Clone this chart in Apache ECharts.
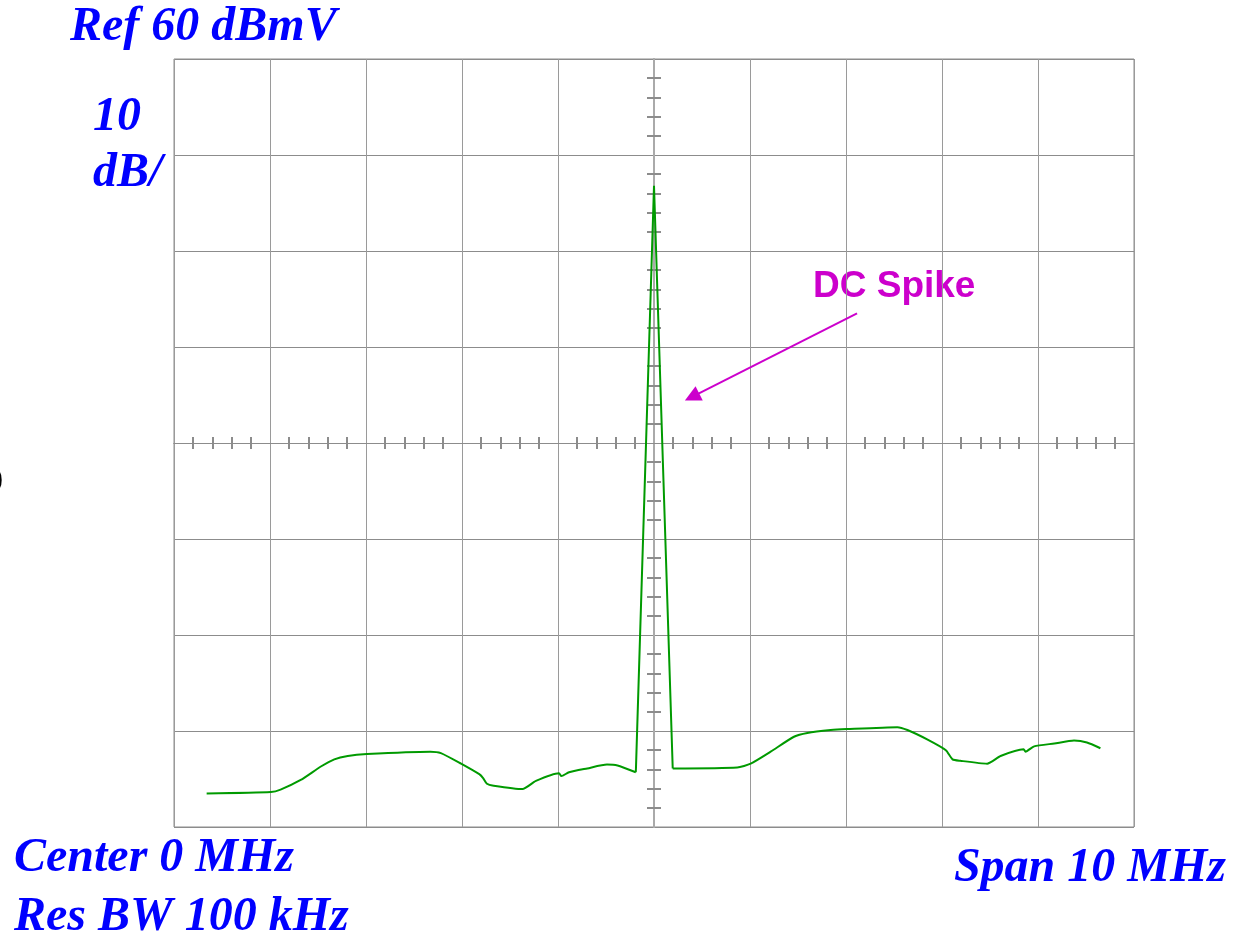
<!DOCTYPE html>
<html>
<head>
<meta charset="utf-8">
<script src="https://cdn.jsdelivr.net/npm/echarts@6/dist/echarts.min.js"></script>
<style>
  html, body { margin: 0; padding: 0; background: #fff; }
  #spectrum { width: 1242px; height: 939px; }
</style>
</head>
<body>
<div id="spectrum"></div>
<script>
// trace: frequency (MHz) and level (dBmV)
var freqMHz = [
  -4.66, -3.99, -3.89, -3.68, -3.47, -3.33, -3.19, -2.99, -2.33, -2.22,
  -2.01, -1.82, -1.78, -1.74, -1.67, -1.37, -1.23, -0.99, -0.965, -0.885,
  -0.695, -0.49, -0.38, -0.19, -0.188, 0.0, 0.195, 0.867, 1.007, 1.215,
  1.458, 1.597, 1.84, 2.01, 2.535, 2.64, 2.85, 3.04, 3.11, 3.19,
  3.47, 3.61, 3.85, 3.87, 3.96, 4.17, 4.375, 4.51, 4.65
];
var levelDbmv = [
  -16.5, -16.35, -16.1, -15.1, -13.7, -12.95, -12.6, -12.4, -12.15, -12.3,
  -13.4, -14.5, -14.9, -15.5, -15.7, -16.05, -15.2, -14.4, -14.7, -14.3,
  -13.9, -13.5, -13.6, -14.3, -13.9, 46.8, -13.9, -13.8, -13.4, -12.15,
  -10.6, -10.2, -9.9, -9.8, -9.6, -9.9, -10.9, -12.0, -12.95, -13.1,
  -13.4, -12.6, -11.9, -12.15, -11.6, -11.3, -11.0, -11.2, -11.8
];
// the spike runs from index 23 to 26, the noise floor is on either side
var spikeStart = 23;
var spikeEnd = 26;

var refLevel = 60;      // top of screen
var dbPerDiv = 10;
var spanMHz = 10;
var arrowFrom = [2.115, 33.5];
var arrowTo = [0.396, 24.8];

var trace = freqMHz.map(function (f, i) { return [f, levelDbmv[i]]; });
var floorLeft = trace.slice(0, spikeStart + 1);
var spike = trace.slice(spikeStart, spikeEnd + 1);
var floorRight = trace.slice(spikeEnd);

var myChart = echarts.init(document.getElementById('spectrum'));

var blueText = 'italic bold 48px "Liberation Serif", "Times New Roman", serif';
var gridColor = '#8c8c8c';
var traceColor = '#009a00';
var tickStyle = { color: '#8c8c8c', width: 2 };

function centerXAxis(inside) {
  return {
    type: 'value', min: -spanMHz / 2, max: spanMHz / 2, interval: 1,
    axisLine: { show: true, onZero: true, onZeroAxisIndex: 1, lineStyle: { color: gridColor } },
    axisTick: { show: false, inside: inside },
    minorTick: { show: true, splitNumber: 5, length: 6, lineStyle: tickStyle },
    axisLabel: { show: false },
    splitLine: { show: false }
  };
}
function centerYAxis(inside) {
  return {
    type: 'value', min: refLevel - 8 * dbPerDiv, max: refLevel, interval: dbPerDiv,
    axisLine: { show: true, onZero: true, onZeroAxisIndex: 0, lineStyle: { color: '#aaa', width: 2 } },
    axisTick: { show: false, inside: inside },
    minorTick: { show: true, splitNumber: 5, length: 7, lineStyle: tickStyle },
    axisLabel: { show: false },
    splitLine: { show: false }
  };
}
function traceSeries(data, smooth) {
  return {
    type: 'line',
    data: data,
    showSymbol: false,
    smooth: smooth,
    lineStyle: { color: traceColor, width: 2 }
  };
}

var spikeSeries = traceSeries(spike, false);
spikeSeries.markLine = {
  silent: true,
  symbol: ['none', 'triangle'],
  symbolSize: [16, 16],
  label: { show: false },
  lineStyle: { color: '#cc00cc', width: 2, type: 'solid' },
  data: [[{ coord: arrowFrom }, { coord: arrowTo }]]
};

var option = {
  backgroundColor: '#fff',
  animation: false,
  grid: {
    left: 174, top: 59, width: 960, height: 768,
    show: true, borderColor: gridColor, borderWidth: 1
  },
  xAxis: [
    {
      type: 'value', min: -spanMHz / 2, max: spanMHz / 2, interval: 1,
      axisLine: { show: false }, axisTick: { show: false }, axisLabel: { show: false },
      splitLine: { show: true, lineStyle: { color: '#9a9a9a', width: 1 } }
    },
    centerXAxis(true),
    centerXAxis(false)
  ],
  yAxis: [
    {
      type: 'value', min: refLevel - 8 * dbPerDiv, max: refLevel, interval: dbPerDiv,
      axisLine: { show: false }, axisTick: { show: false }, axisLabel: { show: false },
      splitLine: { show: true, lineStyle: { color: gridColor, width: 1 } }
    },
    { type: 'value', min: -40, max: 40, show: false },
    centerYAxis(true),
    centerYAxis(false)
  ],
  series: [
    traceSeries(floorLeft, 0.2),
    spikeSeries,
    traceSeries(floorRight, 0.2)
  ],
  graphic: [
    { type: 'text', style: { text: 'Ref 60 dBmV', x: 70, y: 28, font: blueText, fill: '#0000ff', verticalAlign: 'middle' } },
    { type: 'text', style: { text: '10', x: 93, y: 118, font: blueText, fill: '#0000ff', verticalAlign: 'middle' } },
    { type: 'text', style: { text: 'dB/', x: 93, y: 174, font: blueText, fill: '#0000ff', verticalAlign: 'middle' } },
    { type: 'text', style: { text: 'Center 0 MHz', x: 14, y: 859, font: blueText, fill: '#0000ff', verticalAlign: 'middle' } },
    { type: 'text', style: { text: 'Res BW 100 kHz', x: 14, y: 918, font: blueText, fill: '#0000ff', verticalAlign: 'middle' } },
    { type: 'text', style: { text: 'Span 10 MHz', x: 1226, y: 869, font: blueText, fill: '#0000ff', verticalAlign: 'middle', align: 'right' } },
    { type: 'text', style: { text: '0', x: -14, y: 482, font: 'bold 34px "Liberation Serif", serif', fill: '#000', verticalAlign: 'middle' } },
    { type: 'text', style: { text: 'DC Spike', x: 813, y: 287, font: 'bold 37px "Liberation Sans", Arial, sans-serif', fill: '#cc00cc', verticalAlign: 'middle' } }
  ]
};

myChart.setOption(option);
</script>
</body>
</html>
